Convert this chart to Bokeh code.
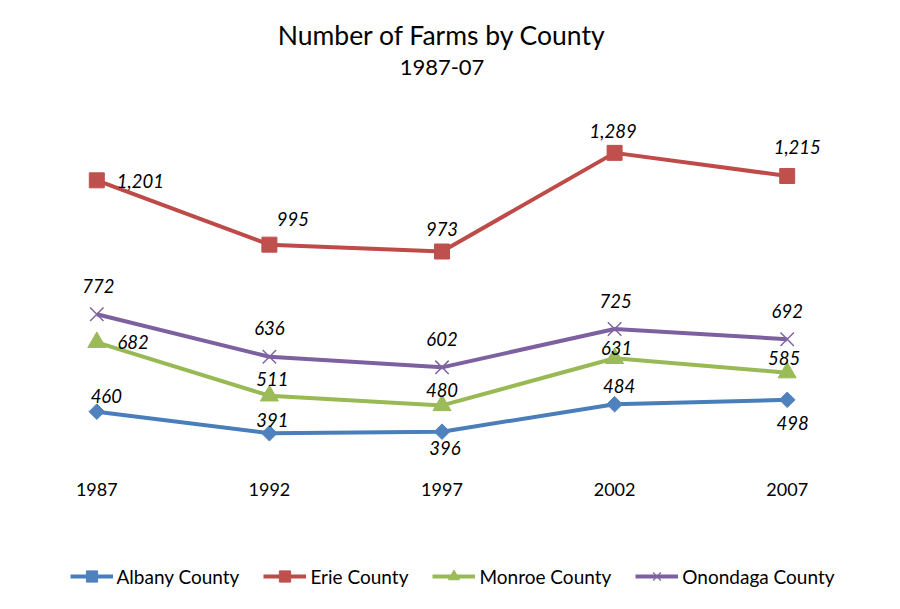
from bokeh.plotting import figure
from bokeh.layouts import column
from bokeh.models import FactorRange, Range1d, Legend, LegendItem, Title, ColumnDataSource
from bokeh.core.properties import value
from bokeh.embed import file_html
from bokeh.resources import INLINE
import math

years = ["1987", "1992", "1997", "2002", "2007"]
albany = [460, 391, 396, 484, 498]
erie = [1201, 995, 973, 1289, 1215]
monroe = [682, 511, 480, 631, 585]
onondaga = [772, 636, 602, 725, 692]
names = ["Albany County", "Erie County", "Monroe County", "Onondaga County"]

# label placement (screen px offsets) - styling only
lab_dx = {
    "a": [9.5, 3, 3, 4.5, 5.5],
    "e": [20, 23.5, 0, -1.5, 10],
    "m": [20.7, 3, 0, 2, -3],
    "o": [1.5, 0, 0, 1, 0],
}
lab_dy = {
    "a": [-16, -13, 16.5, -17.7, 22.7],
    "e": [1, -26, -23, -22, -29],
    "m": [0, -17, -15, -10, -15],
    "o": [-28, -28.5, -28.4, -28, -28],
}
lab_align = {
    "a": ["center"] * 5,
    "e": ["left", "center", "center", "center", "center"],
    "m": ["left", "center", "center", "center", "center"],
    "o": ["center"] * 5,
}

FONT = "Lato"
p = figure(width=900, height=540, x_range=FactorRange(*years),
           y_range=Range1d(265.2, 1517.6), output_backend="svg",
           toolbar_location=None, y_axis_location=None,
           min_border_left=10, min_border_right=27,
           min_border_top=81, min_border_bottom=68)
p.outline_line_color = None
p.xgrid.visible = False
p.ygrid.visible = False
p.background_fill_color = "white"
p.border_fill_color = "white"

p.title = Title(text="Number of Farms by County", align="center",
                text_font=FONT, text_font_size="26.5px",
                text_font_style="normal", text_color="black", standoff=0)
p.add_layout(Title(text="1987-07", align="center", text_font=FONT,
                   text_font_size="22px", text_font_style="normal",
                   text_color="black", standoff=14), "above")

ax = p.xaxis[0]
ax.axis_line_color = None
ax.major_tick_line_color = None
ax.minor_tick_line_color = None
ax.major_label_standoff = 4
ax.major_label_text_font = FONT
ax.major_label_text_font_size = "18px"
ax.major_label_text_color = "black"

series = [
    ("a", albany, "#4A7EBB", "#4F81BD", "square", 11, math.pi / 4),
    ("e", erie, "#BE4B48", "#C0504D", "square", 15, 0),
    ("m", monroe, "#98B954", "#9BBB59", "triangle", 18, 0),
    ("o", onondaga, "#7D60A0", "#8064A2", "x", 19, 0),
]

# legend strip below the chart
lg = figure(width=900, height=69, x_range=Range1d(0, 1), y_range=Range1d(0, 1),
            output_backend="svg", toolbar_location=None,
            x_axis_location=None, y_axis_location=None,
            min_border=0, min_border_left=0, min_border_right=0,
            min_border_top=0, min_border_bottom=0)
lg.outline_line_color = None
lg.xgrid.visible = False
lg.ygrid.visible = False
lg.border_fill_color = "white"

items = []
for (key, vals, lc, mc, marker, size, ang), name in zip(series, names):
    src = ColumnDataSource(dict(
        x=years, y=vals, t=[f"{v:,}" for v in vals],
        dx=lab_dx[key], dy=lab_dy[key], al=lab_align[key]))
    p.line("x", "y", source=src, line_color=lc, line_width=4)
    if marker == "x":
        p.scatter("x", "y", source=src, marker=marker, size=size,
                  line_color=mc, line_width=1.5)
    else:
        p.scatter("x", "y", source=src, marker=marker, size=size,
                  angle=ang, fill_color=mc, line_color=mc)
    p.text("x", "y", text="t", source=src, x_offset="dx", y_offset="dy",
           text_align="al", text_baseline="middle",
           text_font=value(FONT), text_font_style="italic",
           text_font_size="18.5px", text_color="black")

    # off-screen proxy glyphs that only serve the legend swatches
    proxy = ColumnDataSource(dict(x=[-5, -4], y=[-5, -5]))
    lr = lg.line("x", "y", source=proxy, line_color=lc, line_width=4)
    if marker == "x":
        sr = lg.scatter("x", "y", source=proxy, marker=marker, size=size,
                        line_color=mc, line_width=1.2)
    else:
        sr = lg.scatter("x", "y", source=proxy, marker=marker, size=size,
                        angle=ang, fill_color=mc, line_color=mc)
    items.append(LegendItem(label=name, renderers=[lr, sr]))

legend = Legend(items=items, orientation="horizontal", location=(59.5, 19),
                glyph_width=43, glyph_height=28, label_standoff=4, spacing=24,
                label_text_font=FONT, label_text_font_size="19px",
                label_text_color="black", border_line_color=None,
                background_fill_alpha=0, padding=4, margin=0)
lg.add_layout(legend)

layout = column(p, lg, spacing=0)
open("out.html", "w").write(file_html(layout, INLINE))
